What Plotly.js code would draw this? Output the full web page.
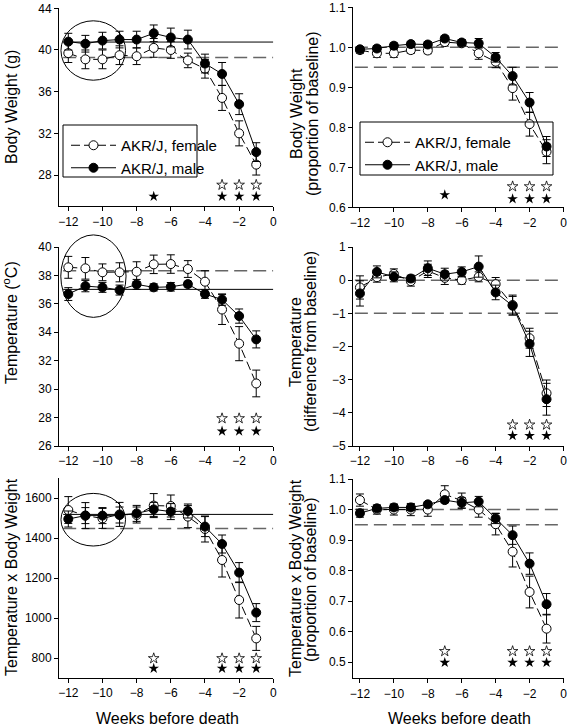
<!DOCTYPE html>
<html><head><meta charset="utf-8">
<script src="https://cdn.plot.ly/plotly-3.0.1.min.js"></script>
<style>html,body{margin:0;padding:0;background:#fff;}#chart{width:573px;height:727px;}</style>
</head><body><div id="chart"></div>
<script>
// ---------- data ----------
const weeks = [-12,-11,-10,-9,-8,-7,-6,-5,-4,-3,-2,-1];
const xTickVals = [-12,-10,-8,-6,-4,-2,0];
const seriesNames = ['AKR/J, female','AKR/J, male'];

// A: Body weight (g)
const bwFemale   = [39.7,39.1,39.1,39.5,39.4,40.2,40.0,39.0,38.2,35.4,32.0,29.0];
const bwFemaleSE = [0.9,0.9,0.9,0.9,0.8,0.9,0.8,0.7,0.9,1.2,1.2,1.0];
const bwMale     = [40.8,40.6,40.9,41.0,41.0,41.6,41.2,41.0,38.7,37.7,34.8,30.2];
const bwMaleSE   = [0.8,0.8,0.8,0.8,0.8,0.8,0.9,0.9,0.9,1.1,1.0,0.9];
const bwBaseMale = 40.76, bwBaseFemale = 39.27;
const bwStarOpenX = [-3,-2,-1], bwStarOpenY = [27.05,27.05,27.05];
const bwStarFillX = [-7,-3,-2,-1], bwStarFillY = [25.95,25.95,25.95,25.95];
const bwEllipse = {weeks:[-12.43,-8.65], values:[37.1,42.8]};

// B: Body weight (proportion of baseline)
const bwpFemale   = [0.993,0.985,0.985,0.993,0.992,1.013,1.010,0.985,0.964,0.898,0.808,0.739];
const bwpFemaleSE = [0.008,0.01,0.01,0.008,0.008,0.01,0.008,0.015,0.015,0.03,0.03,0.03];
const bwpMale     = [0.995,0.997,1.004,1.008,1.007,1.022,1.012,1.010,0.975,0.928,0.862,0.752];
const bwpMaleSE   = [0.006,0.007,0.007,0.007,0.007,0.006,0.007,0.012,0.012,0.022,0.025,0.025];
const bwpBase = [1.0,0.95];
const bwpStarOpenX = [-3,-2,-1], bwpStarOpenY = [0.652,0.652,0.652];
const bwpStarFillX = [-7,-3,-2,-1], bwpStarFillY = [0.631,0.621,0.621,0.621];

// C: Temperature (C)
const tFemale   = [38.57,38.5,38.22,38.22,38.26,38.78,38.8,38.45,37.56,35.6,33.2,30.4];
const tFemaleSE = [0.77,0.76,0.59,0.67,0.7,0.65,0.65,0.59,0.77,1.05,1.2,0.94];
const tMale     = [36.69,37.25,37.16,36.97,37.37,37.16,37.2,37.39,36.69,36.3,35.14,33.5];
const tMaleSE   = [0.45,0.4,0.35,0.35,0.35,0.25,0.3,0.2,0.3,0.4,0.5,0.6];
const tBaseFemale = 38.33, tBaseMale = 37.02;
const tStarOpenX = [-3,-2,-1], tStarOpenY = [27.94,27.94,27.94];
const tStarFillX = [-3,-2,-1], tStarFillY = [27.04,27.04,27.04];
const tEllipse = {weeks:[-12.44,-8.62], values:[35.05,40.85]};

// D: Temperature (difference from baseline)
const tdFemale   = [-0.22,0.09,0.19,-0.03,0.28,0.07,0.0,0.1,-0.12,-0.75,-1.75,-3.41];
const tdFemaleSE = [0.35,0.15,0.15,0.15,0.2,0.2,0.12,0.15,0.2,0.3,0.3,0.4];
const tdMale     = [-0.4,0.25,0.1,0.05,0.36,0.18,0.25,0.41,-0.37,-0.77,-1.92,-3.59];
const tdMaleSE   = [0.38,0.18,0.15,0.1,0.22,0.18,0.15,0.32,0.22,0.28,0.38,0.48];
const tdBase = [0,-1];
const tdStarOpenX = [-3,-2,-1], tdStarOpenY = [-4.36,-4.36,-4.36];
const tdStarFillX = [-3,-2,-1], tdStarFillY = [-4.69,-4.69,-4.69];

// E: Temperature x Body Weight
const tbFemale   = [1540,1512,1498,1518,1515,1562,1560,1507,1445,1290,1090,898];
const tbFemaleSE = [67,65,50,60,40,60,55,55,65,85,90,60];
const tbMale     = [1495,1512,1512,1515,1523,1543,1532,1535,1457,1370,1227,1027];
const tbMaleSE   = [40,40,40,40,40,35,40,35,50,45,50,45];
const tbBaseMale = 1518, tbBaseFemale = 1448;
const tbStarOpenX = [-7,-3,-2,-1], tbStarOpenY = [798,798,798,798];
const tbStarFillX = [-7,-3,-2,-1], tbStarFillY = [748,748,748,748];
const tbEllipse = {weeks:[-12.43,-8.65], values:[1360,1623]};

// F: Temperature x Body Weight (proportion of baseline)
const tbpFemale   = [1.031,1.0,1.0,1.0,1.0,1.05,1.029,1.0,0.952,0.862,0.73,0.61];
const tbpFemaleSE = [0.02,0.015,0.018,0.02,0.022,0.028,0.025,0.025,0.035,0.05,0.052,0.047];
const tbpMale     = [0.988,1.004,1.007,1.007,1.017,1.031,1.022,1.026,0.971,0.916,0.823,0.69];
const tbpMaleSE   = [0.013,0.01,0.01,0.01,0.008,0.008,0.017,0.017,0.017,0.03,0.035,0.035];
const tbpBase = [1.0,0.95];
const tbpStarOpenX = [-7,-3,-2,-1], tbpStarOpenY = [0.536,0.536,0.536,0.536];
const tbpStarFillX = [-7,-3,-2,-1], tbpStarFillY = [0.499,0.499,0.499,0.499];

// ---------- layout geometry ----------
const W = 573, H = 727;
const FONT = 'Liberation Sans, Arial, Helvetica, sans-serif';
const px = v => v / W, py = v => 1 - v / H;
const colL = {domain:[px(59), px(273.3)], range:[-12.545, 0]};
const colR = {domain:[px(353), px(563.5)], range:[-12.41, 0]};
const rows = {
  A:{domain:[py(206.3), py(8.3)], range:[25,44], dtick:4, fmt:''},
  B:{domain:[py(207.3), py(7.3)], range:[0.6,1.1], dtick:0.1, fmt:'.1f'},
  C:{domain:[py(446), py(247)], range:[26,40], dtick:2, fmt:''},
  D:{domain:[py(446), py(247)], range:[-5,1], dtick:1, fmt:''},
  E:{domain:[py(678), py(478)], range:[700,1700], dtick:200, fmt:''},
  F:{domain:[py(678.3), py(479)], range:[0.4475,1.1], dtick:0.1, fmt:'.1f'}
};

const traces = [];
function addPanel(n, fem, femSE, mal, malSE, sox, soy, sfx, sfy, legendId) {
  const xa = n === 1 ? 'x' : 'x' + n, ya = n === 1 ? 'y' : 'y' + n;
  const showLeg = !!legendId;
  traces.push({
    x: weeks, y: fem, xaxis: xa, yaxis: ya, name: seriesNames[0], mode: 'lines+markers',
    line: {color:'#000', width:1, dash:'9px,4px'},
    marker: {symbol:'circle', size:9, color:'#fff', line:{color:'#000', width:1}},
    error_y: {type:'data', array: femSE, visible:true, color:'#000', thickness:1, width:4},
    showlegend: showLeg, legend: legendId || 'legend', cliponaxis:false
  });
  traces.push({
    x: weeks, y: mal, xaxis: xa, yaxis: ya, name: seriesNames[1], mode: 'lines+markers',
    line: {color:'#000', width:1},
    marker: {symbol:'circle', size:9, color:'#000', line:{color:'#000', width:1}},
    error_y: {type:'data', array: malSE, visible:true, color:'#000', thickness:1, width:4},
    showlegend: showLeg, legend: legendId || 'legend', cliponaxis:false
  });
  traces.push({x: sox, y: soy, xaxis: xa, yaxis: ya, mode:'markers', showlegend:false,
    marker:{symbol:'star-open', size:8, color:'#000', line:{width:0.8}}, hoverinfo:'skip'});
  traces.push({x: sfx, y: sfy, xaxis: xa, yaxis: ya, mode:'markers', showlegend:false,
    marker:{symbol:'star', size:8, color:'#000', line:{width:0}}, hoverinfo:'skip'});
}
addPanel(1, bwFemale, bwFemaleSE, bwMale, bwMaleSE, bwStarOpenX, bwStarOpenY, bwStarFillX, bwStarFillY, 'legend');
addPanel(2, bwpFemale, bwpFemaleSE, bwpMale, bwpMaleSE, bwpStarOpenX, bwpStarOpenY, bwpStarFillX, bwpStarFillY, 'legend2');
addPanel(3, tFemale, tFemaleSE, tMale, tMaleSE, tStarOpenX, tStarOpenY, tStarFillX, tStarFillY, null);
addPanel(4, tdFemale, tdFemaleSE, tdMale, tdMaleSE, tdStarOpenX, tdStarOpenY, tdStarFillX, tdStarFillY, null);
addPanel(5, tbFemale, tbFemaleSE, tbMale, tbMaleSE, tbStarOpenX, tbStarOpenY, tbStarFillX, tbStarFillY, null);
addPanel(6, tbpFemale, tbpFemaleSE, tbpMale, tbpMaleSE, tbpStarOpenX, tbpStarOpenY, tbpStarFillX, tbpStarFillY, null);

const tickFont = {family: FONT, size: 12, color: '#000'};
function xAxis(col, anchor) {
  return {domain: col.domain, range: col.range, anchor: anchor, tickmode:'array', tickvals: xTickVals,
    showline:true, linecolor:'#000', linewidth:1, ticks:'outside', ticklen:4, tickcolor:'#000',
    showgrid:false, zeroline:false, tickfont: tickFont, fixedrange:true};
}
function yAxis(row, anchor) {
  return {domain: row.domain, range: row.range, anchor: anchor, dtick: row.dtick, tick0: 0,
    tickformat: row.fmt, showline:true, linecolor:'#000', linewidth:1, ticks:'outside', ticklen:4,
    tickcolor:'#000', showgrid:false, zeroline:false, tickfont: tickFont, fixedrange:true};
}

const layout = {
  width: W, height: H, margin:{l:0,r:0,t:0,b:0}, paper_bgcolor:'#fff', plot_bgcolor:'rgba(0,0,0,0)',
  font:{family: FONT, color:'#000'},
  xaxis: xAxis(colL,'y'),  yaxis: yAxis(rows.A,'x'),
  xaxis2: xAxis(colR,'y2'), yaxis2: yAxis(rows.B,'x2'),
  xaxis3: xAxis(colL,'y3'), yaxis3: yAxis(rows.C,'x3'),
  xaxis4: xAxis(colR,'y4'), yaxis4: yAxis(rows.D,'x4'),
  xaxis5: xAxis(colL,'y5'), yaxis5: yAxis(rows.E,'x5'),
  xaxis6: xAxis(colR,'y6'), yaxis6: yAxis(rows.F,'x6'),
  legend: {x: px(66), y: py(129), xanchor:'left', yanchor:'top', bgcolor:'rgba(0,0,0,0)', borderwidth:0,
    font:{family: FONT, size:15, color:'#000'}, itemwidth:45, tracegroupgap:0},
  legend2: {x: px(360), y: py(126), xanchor:'left', yanchor:'top', bgcolor:'rgba(0,0,0,0)', borderwidth:0,
    font:{family: FONT, size:15, color:'#000'}, itemwidth:45, tracegroupgap:0},
  shapes: [], annotations: []
};

// reference (baseline) lines
const solidLine = {color:'#000', width:1};
const dashLine = {color:'#666', width:1.5, dash:'13px,6px'};
function hline(xa, ya, v, line) {
  layout.shapes.push({type:'line', xref:xa, yref:ya, x0:-12.3, x1:0, y0:v, y1:v, line: line, layer:'below'});
}
hline('x','y', bwBaseMale, solidLine); hline('x','y', bwBaseFemale, dashLine);
bwpBase.forEach(v => hline('x2','y2', v, dashLine));
hline('x3','y3', tBaseMale, solidLine); hline('x3','y3', tBaseFemale, dashLine);
tdBase.forEach(v => hline('x4','y4', v, dashLine));
hline('x5','y5', tbBaseMale, solidLine); hline('x5','y5', tbBaseFemale, dashLine);
tbpBase.forEach(v => hline('x6','y6', v, dashLine));

// ellipses (paper coords so they may extend past the plot area)
function toPaper(col, row, xv, yv) {
  const fx = (xv - col.range[0]) / (col.range[1] - col.range[0]);
  const fy = (yv - row.range[0]) / (row.range[1] - row.range[0]);
  return [col.domain[0] + fx * (col.domain[1] - col.domain[0]), row.domain[0] + fy * (row.domain[1] - row.domain[0])];
}
function ellipse(row, e) {
  const a = toPaper(colL, row, e.weeks[0], e.values[0]);
  const b = toPaper(colL, row, e.weeks[1], e.values[1]);
  layout.shapes.push({type:'circle', xref:'paper', yref:'paper', x0:a[0], y0:a[1], x1:b[0], y1:b[1],
    line:{color:'#000', width:1}, layer:'above'});
}
ellipse(rows.A, bwEllipse); ellipse(rows.C, tEllipse); ellipse(rows.E, tbEllipse);

// legend boxes
layout.shapes.push({type:'rect', xref:'paper', yref:'paper', x0:px(63), x1:px(197), y0:py(177), y1:py(125), line:{color:'#000', width:1}, fillcolor:'rgba(0,0,0,0)'});
layout.shapes.push({type:'rect', xref:'paper', yref:'paper', x0:px(360), x1:px(553), y0:py(175), y1:py(122), line:{color:'#000', width:1}, fillcolor:'rgba(0,0,0,0)'});

// axis titles
function title(text, x, y, angle) {
  layout.annotations.push({text: text, xref:'paper', yref:'paper', x: px(x), y: py(y), xanchor:'center', yanchor:'middle',
    textangle: angle, showarrow:false, font:{family: FONT, size:16, color:'#000'}});
}
title('Body Weight (g)', 11, 107, -90);
title('Temperature (<sup>o</sup>C)', 10, 323, -90);
title('Temperature x Body Weight', 11, 577, -90);
title('Body Weight', 296, 114, -90);
title('(proportion of baseline)', 312, 114, -90);
title('Temperature', 295, 342, -90);
title('(difference from baseline)', 310, 342, -90);
title('Temperature x Body Weight', 295, 578, -90);
title('(proportion of baseline)', 310, 580, -90);
title('Weeks before death', 167, 718, 0);
title('Weeks before death', 459, 718, 0);

Plotly.newPlot('chart', traces, layout, {staticPlot:true, displayModeBar:false});
</script>
</body></html>
